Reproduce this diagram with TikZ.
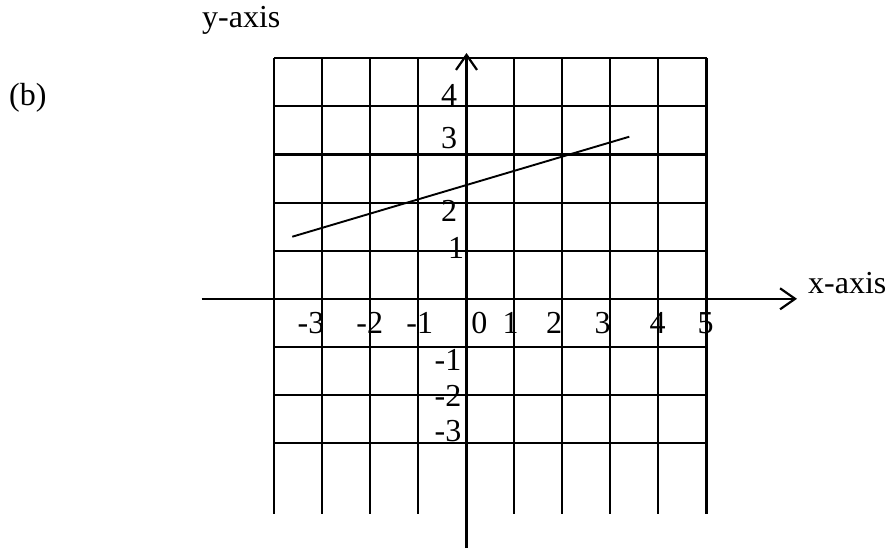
\documentclass[tikz,border=0pt]{standalone}
\usepackage{fontspec}
\setmainfont{Liberation Serif}
\usetikzlibrary{arrows.meta}
\begin{document}
\begin{tikzpicture}[x=1pt,y=-1pt,
  gridline/.style={line width=2.1pt},
  axisline/.style={line width=2.2pt,-{Straight Barb[length=15pt,width=21pt,line width=2.2pt]}},
  graphline/.style={line width=1.9pt},
  lbl/.style={inner sep=0pt,anchor=base west,font=\fontsize{32}{38}\selectfont}]
\useasboundingbox (0,0) rectangle (891,550);
% grid
\foreach \k in {0,1,2,3,5,6,7,8,9}{
  \draw[gridline] (274+48.05*\k,58.3) -- (274+48.05*\k,514.3);
}
\foreach \j in {0,1,2,3,4,6,7,8}{
  \draw[gridline] (274,58.3+48.1*\j) -- (706.5,58.3+48.1*\j);
}
% axes
\coordinate (xs) at (201.7,298.8);
\coordinate (xe) at (797,298.8);
\coordinate (ys) at (466.5,548);
\coordinate (ye) at (466.5,53);
\draw[axisline] (xs) -- (xe);
\draw[axisline] (ys) -- (ye);
% graph line
\coordinate (la) at (292.3,236.7);
\coordinate (lb) at (629.3,136.7);
\draw[graphline] (la) -- (lb);
% labels
\node[lbl] (yax) at (202,27.5) {y-axis};
\node[lbl] (xax) at (808,293.3) {x-axis};
\node[lbl] (b) at (9,105) {(b)};
\node[lbl] (y4) at (441,105) {4};
\node[lbl] (y3) at (441,148.3) {3};
\node[lbl] (y2) at (441,221.7) {2};
\node[lbl] (y1) at (448,258.3) {1};
\node[lbl] (ym1) at (434.5,370) {-1};
\node[lbl] (ym2) at (434.5,406.7) {-2};
\node[lbl] (ym3) at (434.5,441.7) {-3};
\node[lbl] (xm3) at (297.5,333.3) {-3};
\node[lbl] (xm2) at (356.2,333.3) {-2};
\node[lbl] (xm1) at (406.2,333.3) {-1};
\node[lbl] (x0) at (471.2,333.3) {0};
\node[lbl] (x1) at (502.5,333.3) {1};
\node[lbl] (x2) at (546,333.3) {2};
\node[lbl] (x3) at (594.5,333.3) {3};
\node[lbl] (x4) at (649.5,333.3) {4};
\node[lbl] (x5) at (697.5,333.3) {5};
\end{tikzpicture}
\end{document}
